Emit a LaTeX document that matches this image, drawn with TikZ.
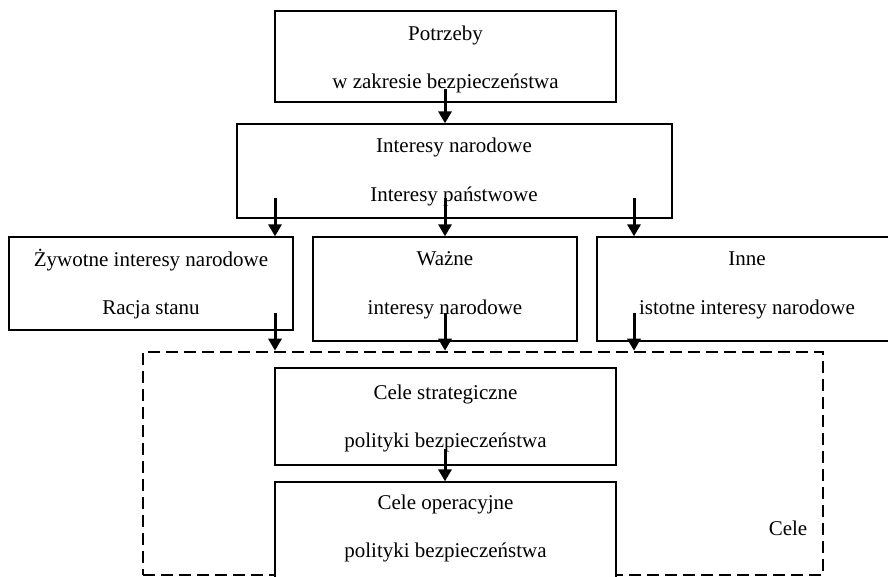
\documentclass[tikz,border=0pt]{standalone}
\usepackage{fontspec}
\setmainfont{Liberation Serif}
\usetikzlibrary{arrows.meta}

\tikzset{
  box/.style={draw, line width=1.3pt, fill=white, inner sep=0pt},
  lbl/.style={inner sep=0pt, anchor=base, font=\fontsize{21}{25}\selectfont},
  arr/.style={line width=3pt, -{Triangle[length=12pt,width=13pt]}},
  dashbox/.style={draw, line width=2.6pt, dash pattern=on 12pt off 6pt, inner sep=0pt}
}

\begin{document}
\begin{tikzpicture}[x=1pt, y=-1pt]
\useasboundingbox (0,0) rectangle (888,576);

% outer dashed frame of the goals
\node[dashbox, minimum width=680pt, minimum height=223pt] (cele) at (483,463.5) {};
\node[lbl] (celeT) at (788,535) {Cele};

% boxes
\node[box, minimum width=341pt, minimum height=91pt]  (p) at (445.5,56.5) {};
\node[box, minimum width=435pt, minimum height=94pt]  (n) at (454.5,171) {};
\node[box, minimum width=284pt, minimum height=93pt]  (a) at (151,283.5) {};
\node[box, minimum width=264pt, minimum height=104pt] (b) at (445,289) {};
\node[box, minimum width=300pt, minimum height=104pt] (c) at (747,289) {};
\node[box, minimum width=341pt, minimum height=97pt]  (d) at (445.5,416.5) {};
\node[box, minimum width=341pt, minimum height=118pt] (e) at (445.5,541) {};

% texts
\node[lbl] (p1) at (445.5,40) {Potrzeby};
\node[lbl] (p2) at (445.5,88) {w zakresie bezpieczeństwa};
\node[lbl] (n1) at (454,152) {Interesy narodowe};
\node[lbl] (n2) at (454,201) {Interesy państwowe};
\node[lbl] (a1) at (151,266) {Żywotne interesy narodowe};
\node[lbl] (a2) at (151,314) {Racja stanu};
\node[lbl] (b1) at (445,265) {Ważne};
\node[lbl] (b2) at (445,314) {interesy narodowe};
\node[lbl] (c1) at (747,265) {Inne};
\node[lbl] (c2) at (747,314) {istotne interesy narodowe};
\node[lbl] (d1) at (445.5,399) {Cele strategiczne};
\node[lbl] (d2) at (445.5,447) {polityki bezpieczeństwa};
\node[lbl] (e1) at (445.5,509) {Cele operacyjne};
\node[lbl] (e2) at (445.5,557) {polityki bezpieczeństwa};

% arrow starting points
\coordinate (sp)  at (445,89);
\coordinate (sn1) at (275,198);
\coordinate (sn2) at (445,198);
\coordinate (sn3) at (634,198);
\coordinate (sa)  at (275,313);
\coordinate (sb)  at (445,313);
\coordinate (sc)  at (634,313);
\coordinate (sd)  at (445,449);

% arrows
\draw[arr] (sp)  -- (sp |- n.north);
\draw[arr] (sn1) -- (sn1 |- a.north);
\draw[arr] (sn2) -- (sn2 |- b.north);
\draw[arr] (sn3) -- (sn3 |- c.north);
\draw[arr] (sa)  -- (sa |- cele.north);
\draw[arr] (sb)  -- (sb |- cele.north);
\draw[arr] (sc)  -- (sc |- cele.north);
\draw[arr] (sd)  -- (sd |- e.north);
\end{tikzpicture}
\end{document}
